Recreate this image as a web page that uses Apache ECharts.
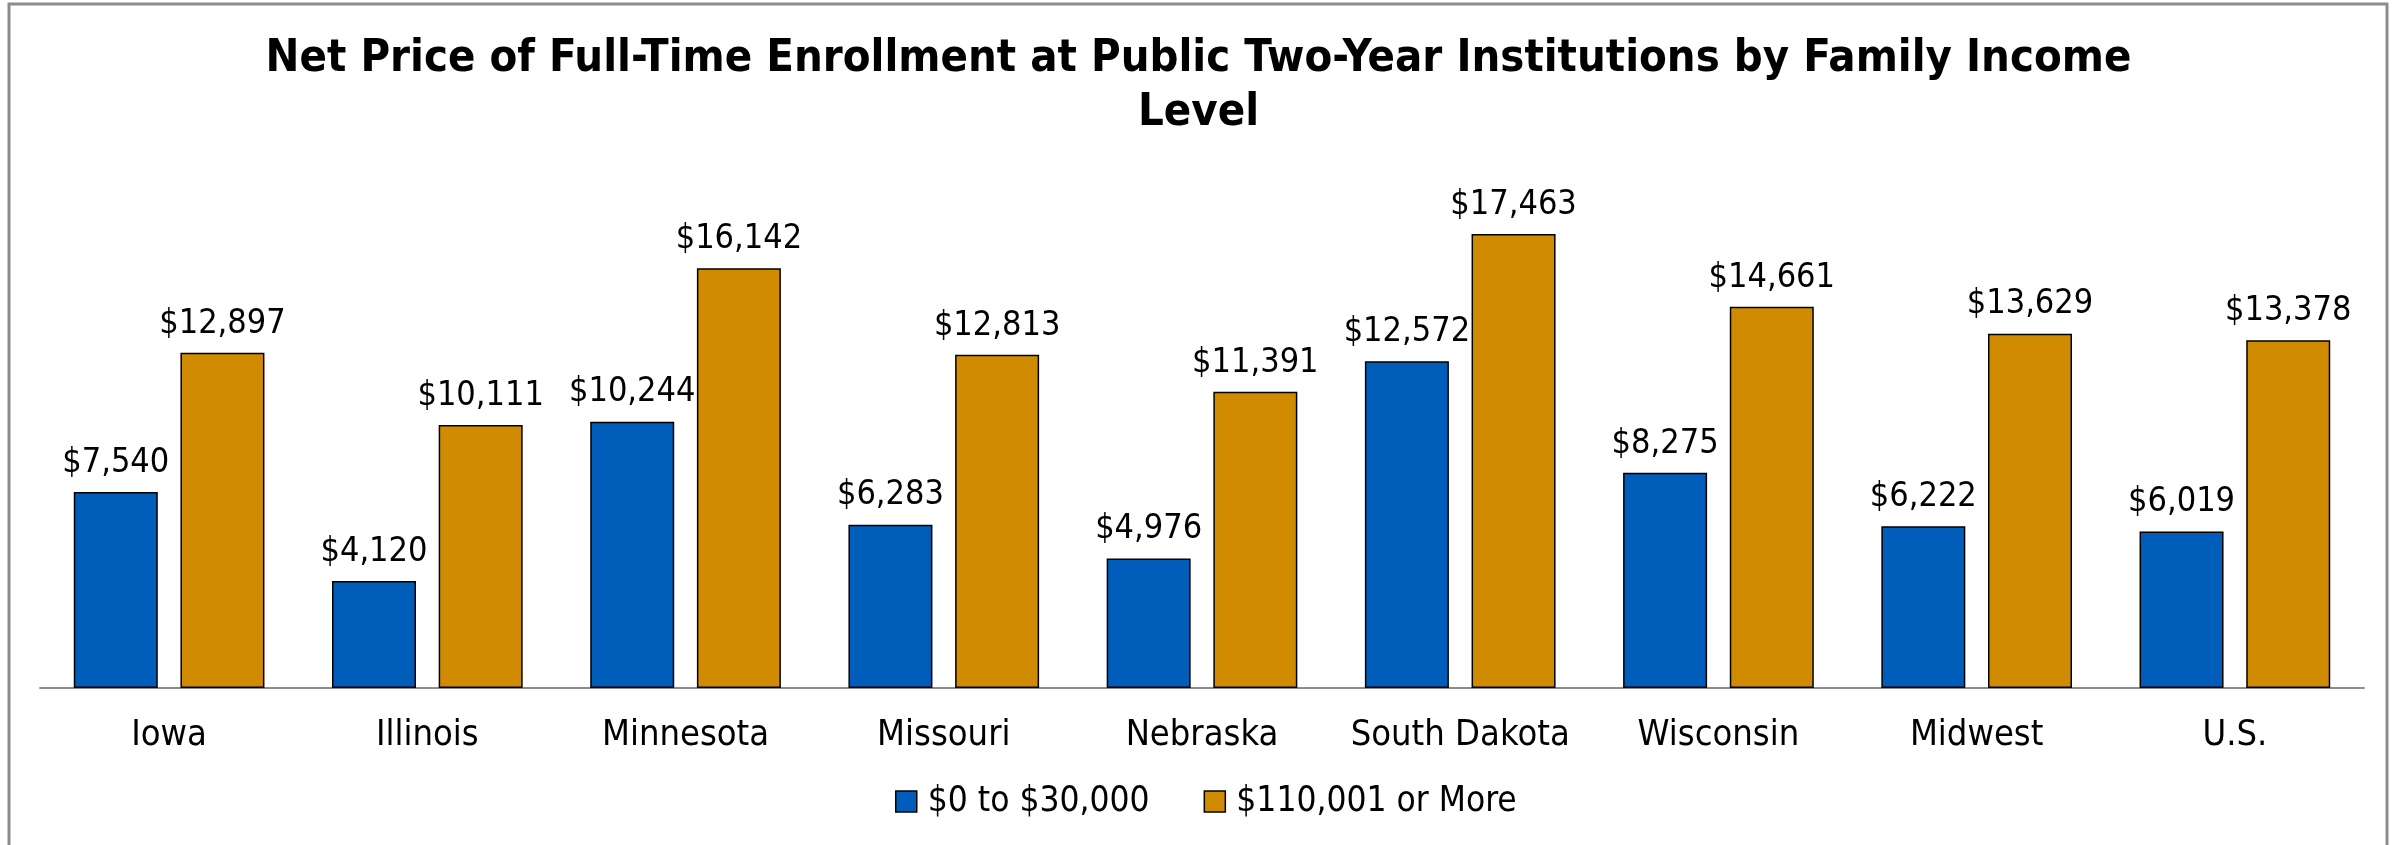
<!DOCTYPE html>
<html>
<head>
<meta charset="utf-8">
<script src="https://cdn.jsdelivr.net/npm/echarts@6/dist/echarts.min.js"></script>
<style>
  html, body { margin: 0; padding: 0; background: #fff; }
  #chart { width: 2397px; height: 845px; }
</style>
</head>
<body>
<div id="chart"></div>
<script>
// chart data
var categories = ['Iowa', 'Illinois', 'Minnesota', 'Missouri', 'Nebraska', 'South Dakota', 'Wisconsin', 'Midwest', 'U.S.']
var lowIncome = [7540, 4120, 10244, 6283, 4976, 12572, 8275, 6222, 6019]
var highIncome = [12897, 10111, 16142, 12813, 11391, 17463, 14661, 13629, 13378]
var seriesNames = ['$0 to $30,000', '$110,001 or More']

var FONT = "'DejaVu Sans Condensed', 'DejaVu Sans', sans-serif"

function money(p) {
  return '$' + p.value.toLocaleString('en-US')
}

function barSeries(name, data, color) {
  return {
    name: name,
    type: 'bar',
    barWidth: 84,
    barGap: '27%',
    data: data,
    itemStyle: { color: color, borderColor: '#000', borderWidth: 1.5 },
    label: {
      show: true,
      position: 'top',
      distance: 12,
      formatter: money,
      color: '#000',
      fontSize: 34,
      fontFamily: FONT
    }
  }
}

var myChart = echarts.init(document.getElementById('chart'))
myChart.setOption({
  animation: false,
  color: ['#005DBA', '#D18B00'],
  title: {
    text: 'Net Price of Full-Time Enrollment at Public Two-Year Institutions by Family Income\nLevel',
    left: 'center',
    top: 27,
    textStyle: {
      fontFamily: FONT,
      fontSize: 45,
      fontWeight: 'bold',
      lineHeight: 54,
      align: 'center',
      color: '#000'
    }
  },
  graphic: [
    {
      type: 'rect',
      shape: { x: 9, y: 4, width: 2378, height: 860 },
      style: { fill: 'none', stroke: '#8c8c8c', lineWidth: 3 },
      silent: true
    }
  ],
  legend: {
    left: 890,
    top: 779,
    itemWidth: 21,
    itemHeight: 21,
    itemGap: 54,
    icon: 'rect',
    itemStyle: { borderColor: '#000', borderWidth: 1.5 },
    textStyle: { fontFamily: FONT, fontSize: 35, color: '#000', padding: [0, 0, 0, 6] },
    data: seriesNames
  },
  grid: {
    left: 40,
    right: 33,
    top: 168,
    bottom: 157
  },
  xAxis: {
    type: 'category',
    data: categories,
    axisLine: { lineStyle: { color: '#8c8c8c', width: 2 } },
    axisTick: { show: false },
    axisLabel: { color: '#000', fontSize: 36, fontFamily: FONT, margin: 30, interval: 0 }
  },
  yAxis: {
    type: 'value',
    min: 0,
    max: 20000,
    show: false,
    splitLine: { show: false }
  },
  series: [
    barSeries(seriesNames[0], lowIncome, '#005DBA'),
    barSeries(seriesNames[1], highIncome, '#D18B00')
  ]
})
</script>
</body>
</html>
